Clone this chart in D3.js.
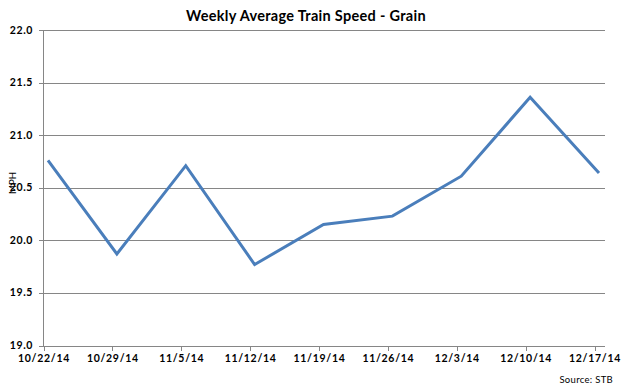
<!DOCTYPE html>
<html>
<head>
<meta charset="utf-8">
<script src="https://cdn.jsdelivr.net/npm/d3@7/dist/d3.min.js"></script>
<style>
  body { margin: 0; background: #fff; }
  svg { display: block; font-family: "Lato", "Liberation Sans", sans-serif; }
</style>
</head>
<body>
<svg id="chart" width="628" height="388"></svg>
<script>
// weeks and average grain train speed (mph)
const weeks = ["10/22/14", "10/29/14", "11/5/14", "11/12/14", "11/19/14", "11/26/14", "12/3/14", "12/10/14", "12/17/14"];
const speeds = [20.76, 19.87, 20.71, 19.77, 20.15, 20.23, 20.61, 21.36, 20.64];
const yTicks = [19.0, 19.5, 20.0, 20.5, 21.0, 21.5, 22.0];

const svg = d3.select("#chart");

const plotLeft = 43, plotRight = 605, plotTop = 30, plotBottom = 345.5;

// points sit a little right of their tick marks, like the original
const x = d3.scalePoint()
    .domain(weeks)
    .range([48, 599]);

const y = d3.scaleLinear()
    .domain([19, 22])
    .range([plotBottom, plotTop]);

// ===== gridlines =====
svg.append("g")
    .selectAll("line")
    .data(yTicks)
    .join("line")
    .attr("x1", plotLeft - 4)
    .attr("x2", plotRight)
    .attr("y1", d => Math.round(y(d)) + 0.5)
    .attr("y2", d => Math.round(y(d)) + 0.5)
    .attr("stroke", "#868686")
    .attr("stroke-width", 1);

// y axis line
svg.append("line")
    .attr("x1", plotLeft + 0.5).attr("x2", plotLeft + 0.5)
    .attr("y1", plotTop).attr("y2", Math.round(plotBottom) + 0.5)
    .attr("stroke", "#868686");

// y labels
svg.append("g")
    .selectAll("text")
    .data(yTicks)
    .join("text")
    .attr("x", 33)
    .attr("y", d => y(d) + 3.5)
    .attr("text-anchor", "end")
    .attr("font-size", 10.5)
    .attr("font-weight", "bold")
    .attr("letter-spacing", 0.6)
    .attr("fill", "#000")
    .text(d => d.toFixed(1));

// x tick marks
svg.append("g")
    .selectAll("line")
    .data(weeks)
    .join("line")
    .attr("x1", d => Math.round(x(d) - 4.5) + 0.5)
    .attr("x2", d => Math.round(x(d) - 4.5) + 0.5)
    .attr("y1", Math.round(plotBottom) + 0.5)
    .attr("y2", Math.round(plotBottom) + 5)
    .attr("stroke", "#868686");

// x labels
svg.append("g")
    .selectAll("text")
    .data(weeks)
    .join("text")
    .attr("x", d => x(d) - 4)
    .attr("y", 362)
    .attr("text-anchor", "middle")
    .attr("font-size", 10.5)
    .attr("font-weight", "bold")
    .attr("letter-spacing", 0.7)
    .attr("fill", "#000")
    .text(d => d);

// ===== line =====
const line = d3.line()
    .x((d, i) => x(weeks[i]))
    .y(d => y(d));

svg.append("path")
    .datum(speeds)
    .attr("d", line)
    .attr("fill", "none")
    .attr("stroke", "#4A7EBB")
    .attr("stroke-width", 3)
    .attr("stroke-linejoin", "miter");

// ===== text =====
svg.append("text")
    .attr("x", 306)
    .attr("y", 21)
    .attr("text-anchor", "middle")
    .attr("font-size", 14.5)
    .attr("font-weight", "bold")
    .attr("letter-spacing", 0.3)
    .text("Weekly Average Train Speed - Grain");

svg.append("text")
    .attr("transform", "translate(16,183) rotate(-90)")
    .attr("text-anchor", "middle")
    .attr("font-size", 9.5)
    .text("MPH");

svg.append("text")
    .attr("x", 613)
    .attr("y", 383)
    .attr("text-anchor", "end")
    .attr("font-size", 9.5)
    .attr("letter-spacing", 0.3)
    .text("Source:  STB");
</script>
</body>
</html>
